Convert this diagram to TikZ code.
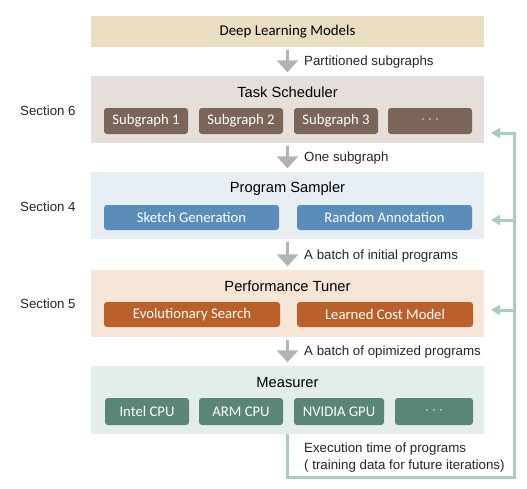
\documentclass[tikz,border=0pt]{standalone}
\usepackage{fontspec}
\setmainfont{Liberation Sans}
\newfontfamily\boxfont{Carlito}
\usetikzlibrary{arrows.meta}
\definecolor{dltan}{HTML}{EBDDBF}
\definecolor{tsband}{HTML}{E6DEDB}
\definecolor{tsbox}{HTML}{7B6559}
\definecolor{psband}{HTML}{E7EFF5}
\definecolor{psbox}{HTML}{5B8DB9}
\definecolor{ptband}{HTML}{F7E5D7}
\definecolor{ptbox}{HTML}{BA612B}
\definecolor{meband}{HTML}{E3EDEB}
\definecolor{mebox}{HTML}{5A8679}
\definecolor{flowgray}{HTML}{B3B3B3}
\definecolor{fbteal}{HTML}{A9CBC3}
\begin{document}
\begin{tikzpicture}[x=1pt, y=-1pt,
  band/.style={fill=#1, minimum width=393pt, inner sep=0pt},
  title/.style={font=\fontsize{14.7}{17}\selectfont},
  part/.style={fill=#1, text=white, rounded corners=3pt, minimum height=26pt, inner sep=0pt, font=\boxfont\fontsize{14.7}{17}\selectfont},
  dots/.style={text=white!50!#1},
  note/.style={anchor=west, inner sep=0pt, text=black!85, font=\fontsize{13.3}{16.5}\selectfont},
  flow/.style={draw=flowgray, line width=3pt, shorten <=3pt, shorten >=3.5pt, -{Triangle[width=21pt,length=12pt]}},
  fb/.style={draw=fbteal, line width=3pt},
  fbarrow/.style={fb, -{Triangle[width=10pt,length=9pt]}}]
\useasboundingbox (0,0) rectangle (527,488);
% bands
\node[band=dltan, minimum height=31pt, font=\boxfont\fontsize{14.9}{17}\selectfont] (dl) at (287.5,31.5){Deep Learning Models};
\node[band=tsband, minimum height=67pt] (ts) at (287.5,109.5){};
\node[band=psband, minimum height=67pt] (ps) at (287.5,205.5){};
\node[band=ptband, minimum height=67pt] (pt) at (287.5,303.5){};
\node[band=meband, minimum height=68pt] (me) at (287.5,400){};
% titles
\node[title] (tstitle) at (287.5,92){Task Scheduler};
\node[title] (pstitle) at (287.5,189){Program Sampler};
\node[title] (pttitle) at (287.5,286){Performance Tuner};
\node[title] (metitle) at (287.5,383){Measurer};
% task scheduler
\node[part=tsbox, minimum width=84pt] (sg1) at (146,121){Subgraph 1};
\node[part=tsbox, minimum width=84pt] (sg2) at (241,121){Subgraph 2};
\node[part=tsbox, minimum width=84pt] (sg3) at (336,121){Subgraph 3};
\node[part=tsbox, minimum width=84pt, dots=tsbox] (sg4) at (430,121){· · ·};
% program sampler
\node[part=psbox, minimum width=175pt, minimum height=25pt] (sketch) at (191.5,217.5){Sketch Generation};
\node[part=psbox, minimum width=175pt, minimum height=25pt] (annot) at (384.5,217.5){Random Annotation};
% performance tuner
\node[part=ptbox, minimum width=176pt, minimum height=25pt] (evo) at (192,314.5){Evolutionary Search};
\node[part=ptbox, minimum width=176pt, minimum height=25pt] (cost) at (385,314.5){Learned Cost Model};
% measurer
\node[part=mebox, minimum width=84pt, minimum height=27pt] (intel) at (147,411.5){Intel CPU};
\node[part=mebox, minimum width=84pt, minimum height=27pt] (arm) at (241,411.5){ARM CPU};
\node[part=mebox, minimum width=90pt, minimum height=27pt] (nvidia) at (339,411.5){NVIDIA GPU};
\node[part=mebox, minimum width=78pt, minimum height=27pt, dots=mebox] (medots) at (434,411.5){· · ·};
% flow arrows
\draw[flow] (dl) -- (ts);
\draw[flow] (ts) -- (ps);
\draw[flow] (ps) -- (pt);
\draw[flow] (pt) -- (me);
\node[note] (lbl1) at (304,62){Partitioned subgraphs};
\node[note] (lbl2) at (304,158){One subgraph};
\node[note] (lbl3) at (304,256){A batch of initial programs};
\node[note] (lbl4) at (304,352){A batch of opimized programs};
% section labels
\node[note] (sec6) at (20,111){Section 6};
\node[note] (sec4) at (20,207){Section 4};
\node[note] (sec5) at (20,304){Section 5};
% feedback loop
\coordinate (fb0) at (287,434);
\coordinate (fb1) at (287,477);
\coordinate (fb2) at (514,477);
\coordinate (fbts) at (514,133);
\coordinate (fbps) at (514,220);
\coordinate (fbpt) at (514,310);
\coordinate (tgtts) at (491,133);
\coordinate (tgtps) at (491,220);
\coordinate (tgtpt) at (491,310);
\draw[fbarrow] (fb0) -- (fb1) -- (fb2) -- (fbts) -- (tgtts);
\draw[fbarrow] (fbps) -- (tgtps);
\draw[fbarrow] (fbpt) -- (tgtpt);
\node[note, anchor=north west, align=left] (exec) at (304,443){Execution time of programs\\( training data for future iterations)};
\end{tikzpicture}
\end{document}
